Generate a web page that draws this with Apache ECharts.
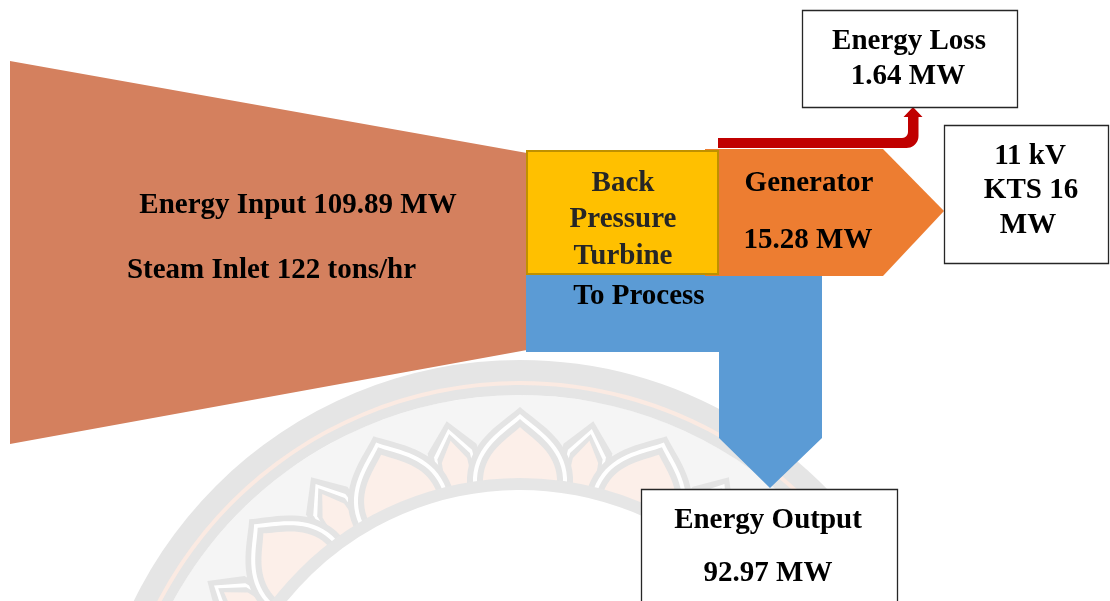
<!DOCTYPE html>
<html>
<head>
<meta charset="utf-8">
<script src="https://cdn.jsdelivr.net/npm/echarts@6/dist/echarts.min.js"></script>
<style>
  html, body { margin: 0; padding: 0; background: #ffffff; }
  #chart { width: 1110px; height: 601px; }
</style>
</head>
<body>
<div id="chart"></div>
<script>
// Energy balance of the back pressure turbine set
const stageNames = ['Energy Input', 'Generator', 'Energy Loss', 'Energy Output', 'KTS'];
const stageMW = [109.89, 15.28, 1.64, 92.97, 16];
const steamInletTph = [122];
const turbineLines = ['Back', 'Pressure', 'Turbine'];
const processLabel = ['To Process'];
const busVoltage = ['11 kV'];

const FONT = 'bold 29px "Liberation Serif", "Times New Roman", serif';
const COLORS = {
  input: '#D4805E', turbine: '#FFC000', turbineEdge: '#BF9000',
  generator: '#ED7D31', process: '#5B9BD5', loss: '#C00000',
  boxEdge: '#262626'
};

let zCounter = 0;
const elements = [];
function add(el) { el.z = ++zCounter; el.silent = true; elements.push(el); return el; }

// ---------- faint seal in the background ----------
const C = { x: 520, y: 790 };
function polar(theta, v, u) {
  return [C.x + v * Math.cos(theta) - u * Math.sin(theta),
          C.y + v * Math.sin(theta) + u * Math.cos(theta)];
}
function bez(a, b, c, d, t) {
  const s = 1 - t;
  return s * s * s * a + 3 * s * s * t * b + 3 * s * t * t * c + t * t * t * d;
}
function petal(theta, base, w, h) {
  const left = [];
  const N = 18;
  for (let i = 0; i <= N; i++) {
    const t = i / N;
    left.push([bez(-w, -w * 1.04, -w * 0.32, 0, t), base + bez(0, h * 0.55, h * 0.8, h, t)]);
  }
  const pts = left.map(p => polar(theta, p[1], p[0]));
  for (let i = N - 1; i >= 0; i--) pts.push(polar(theta, left[i][1], -left[i][0]));
  return pts;
}
function spire(theta, base, w, h) {
  const loc = [[-w, 0], [-w * 0.92, h * 0.6], [0, h], [w * 0.92, h * 0.6], [w, 0]];
  return loc.map(p => polar(theta, base + p[1], p[0]));
}
function sector(r0, r, fill) {
  add({ type: 'sector', shape: { cx: C.x, cy: C.y, r0: r0, r: r, startAngle: -Math.PI, endAngle: -0.5, clockwise: true },
        style: { fill: fill } });
}

sector(312, 395, '#f5f5f5');
sector(395, 430, '#e5e5e5');
sector(405, 409, '#fbeae2');

const step = Math.PI / 8;
for (let k = -4; k <= 3; k++) {
  const th = -Math.PI / 2 + k * step + step / 2;
  add({ type: 'polygon', shape: { points: spire(th, 306, 27, 70) }, style: { fill: '#e4e4e4' } });
  add({ type: 'polygon', shape: { points: spire(th, 306, 21, 62) }, style: { fill: '#ffffff' } });
  add({ type: 'polygon', shape: { points: spire(th, 306, 18, 57) }, style: { fill: '#e4e4e4' } });
  add({ type: 'polygon', shape: { points: spire(th, 306, 14, 50) }, style: { fill: '#fcefe9' } });
}
for (let k = -4; k <= 3; k++) {
  const th = -Math.PI / 2 + k * step;
  add({ type: 'polygon', shape: { points: petal(th, 306, 53, 77) }, style: { fill: '#e4e4e4' } });
  add({ type: 'polygon', shape: { points: petal(th, 306, 47, 70) }, style: { fill: '#ffffff' } });
  add({ type: 'polygon', shape: { points: petal(th, 306, 43, 65) }, style: { fill: '#e4e4e4' } });
  add({ type: 'polygon', shape: { points: petal(th, 306, 37, 57) }, style: { fill: '#fcefe9' } });
}
sector(300, 312, '#e6e6e6');

// ---------- energy flow shapes ----------
// steam / energy input band narrowing into the turbine
add({ type: 'polygon', shape: { points: [[10, 61], [527, 153], [527, 350], [10, 444]] },
      style: { fill: COLORS.input } });

// process steam leaving the turbine and turning down to the output
add({ type: 'polygon', shape: { points: [[526, 274], [822, 274], [822, 438], [770, 488], [719, 438], [719, 352], [526, 352]] },
      style: { fill: COLORS.process } });

// generator arrow
add({ type: 'polygon', shape: { points: [[705, 149], [883, 149], [944, 211], [883, 276], [705, 276]] },
      style: { fill: COLORS.generator } });

// turbine block
add({ type: 'rect', shape: { x: 527, y: 151, width: 191, height: 123 },
      style: { fill: COLORS.turbine, stroke: COLORS.turbineEdge, lineWidth: 2 } });

// loss arrow bending up to the loss box
function arc(cx, cy, r, a0, a1, n) {
  const pts = [];
  for (let i = 0; i <= n; i++) {
    const a = a0 + (a1 - a0) * i / n;
    pts.push([cx + r * Math.cos(a), cy + r * Math.sin(a)]);
  }
  return pts;
}
const lossPts = [[718, 138], [902, 138]]
  .concat(arc(902, 132, 6, Math.PI / 2, 0, 6))
  .concat([[908, 117], [903.5, 117], [913, 107], [922.5, 117], [918.5, 117], [918.5, 136]])
  .concat(arc(906.5, 136, 12, 0, Math.PI / 2, 10))
  .concat([[718, 148]]);
add({ type: 'polygon', shape: { points: lossPts }, style: { fill: COLORS.loss } });

// ---------- value boxes ----------
function box(x, y, w, h) {
  add({ type: 'rect', shape: { x: x, y: y, width: w, height: h },
        style: { fill: '#ffffff', stroke: COLORS.boxEdge, lineWidth: 1.3 } });
}
box(802.5, 10.5, 215, 97);
box(944.5, 125.5, 164, 138);
box(641.5, 489.5, 256, 130);

// ---------- labels ----------
function label(str, x, y, fill) {
  add({ type: 'text', style: { text: str, x: x, y: y + 3, fill: fill || '#000000', font: FONT,
        align: 'center', verticalAlign: 'middle' } });
}
label(stageNames[0] + ' ' + stageMW[0] + ' MW', 298, 202.5);
label('Steam Inlet ' + steamInletTph[0] + ' tons/hr', 271.5, 267.5);
label(turbineLines[0], 623, 180.5, '#262626');
label(turbineLines[1], 623, 217, '#262626');
label(turbineLines[2], 623, 253.5, '#262626');
label(processLabel[0], 639, 293.5);
label(stageNames[1], 809, 180.5);
label(stageMW[1] + ' MW', 808, 237.5);
label(stageNames[2], 909, 38.5);
label(stageMW[2] + ' MW', 908, 73.5);
label(busVoltage[0], 1030, 153.5);
label(stageNames[4] + ' ' + stageMW[4], 1031, 187.5);
label('MW', 1028, 222.5);
label(stageNames[3], 768, 517.5);
label(stageMW[3] + ' MW', 768, 570.5);

const chart = echarts.init(document.getElementById('chart'), null, { renderer: 'canvas' });
chart.setOption({
  animation: false,
  backgroundColor: '#ffffff',
  graphic: { elements: elements }
});
</script>
</body>
</html>
